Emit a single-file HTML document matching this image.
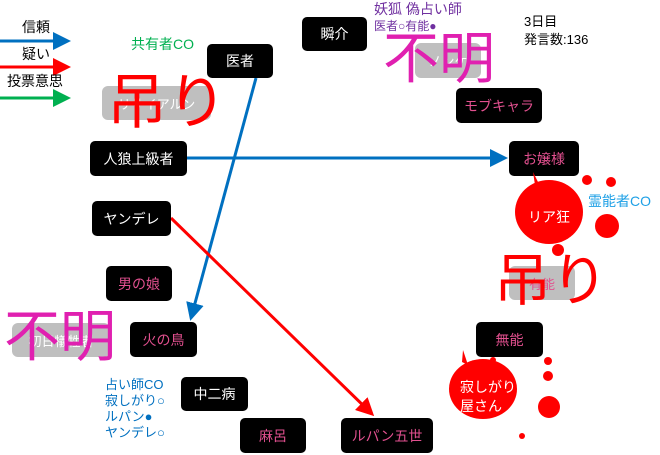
<!DOCTYPE html>
<html><head><meta charset="utf-8"><style>
body{margin:0;width:660px;height:455px;background:#fff;position:relative;overflow:hidden;font-family:"Liberation Sans","Noto Sans CJK JP",sans-serif}
.n{position:absolute;background:#000;color:#fff;border-radius:5px;display:flex;align-items:center;justify-content:center;font-size:14px}
.p{color:#e2508f}
.g{position:absolute;background:#bfbfbf;color:#fff;border-radius:6px;display:flex;align-items:center;justify-content:center;font-size:13px}
.t{position:absolute;white-space:nowrap;line-height:1}
</style></head><body>
<svg width="660" height="455" style="position:absolute;left:0;top:0">
<defs>
<marker id="ab" markerWidth="6" markerHeight="6" refX="5" refY="3" orient="auto" markerUnits="strokeWidth"><path d="M0,0 L6,3 L0,6z" fill="#0070c0"/></marker>
<marker id="ar" markerWidth="6" markerHeight="6" refX="5" refY="3" orient="auto" markerUnits="strokeWidth"><path d="M0,0 L6,3 L0,6z" fill="#f00"/></marker>
<marker id="ag" markerWidth="6" markerHeight="6" refX="5" refY="3" orient="auto" markerUnits="strokeWidth"><path d="M0,0 L6,3 L0,6z" fill="#00b050"/></marker>
</defs>
<line x1="0" y1="41" x2="68" y2="41" stroke="#0070c0" stroke-width="3" marker-end="url(#ab)"/>
<line x1="0" y1="67" x2="68" y2="67" stroke="#f00" stroke-width="3" marker-end="url(#ar)"/>
<line x1="0" y1="98" x2="68" y2="98" stroke="#00b050" stroke-width="3" marker-end="url(#ag)"/>
<line x1="256" y1="78" x2="191" y2="318" stroke="#0070c0" stroke-width="3" marker-end="url(#ab)"/>
<line x1="187" y1="158" x2="505" y2="158" stroke="#0070c0" stroke-width="3" marker-end="url(#ab)"/>
<line x1="171" y1="218" x2="372" y2="414" stroke="#f00" stroke-width="3" marker-end="url(#ar)"/>
</svg>
<div class="t" style="left:22px;top:20px;font-size:14px">信頼</div>
<div class="t" style="left:22px;top:47px;font-size:14px">疑い</div>
<div class="t" style="left:7px;top:74px;font-size:14px">投票意思</div>
<div class="t" style="left:131px;top:37px;font-size:14px;color:#00b050">共有者CO</div>
<div class="g" style="left:102px;top:86px;width:109px;height:34px">リサイアルン</div>
<div class="t" style="left:107px;top:73px;font-size:60px;color:#f00">吊り</div>
<div class="n" style="left:207px;top:44px;width:66px;height:34px">医者</div>
<div class="n" style="left:302px;top:17px;width:65px;height:34px">瞬介</div>
<div class="n" style="left:90px;top:141px;width:97px;height:35px">人狼上級者</div>
<div class="n" style="left:92px;top:201px;width:79px;height:35px">ヤンデレ</div>
<div class="n p" style="left:106px;top:266px;width:66px;height:35px">男の娘</div>
<div class="g" style="left:12px;top:323px;width:98px;height:34px">初日犠牲者</div>
<div class="t" style="left:4px;top:309px;font-size:56px;color:#e020b0">不明</div>
<div class="n p" style="left:130px;top:322px;width:67px;height:35px">火の鳥</div>
<div class="t" style="left:105px;top:377px;font-size:13px;color:#0070c0;line-height:16px">占い師CO<br>寂しがり○<br>ルパン●<br>ヤンデレ○</div>
<div class="n" style="left:181px;top:377px;width:67px;height:34px">中二病</div>
<div class="n p" style="left:240px;top:418px;width:66px;height:35px">麻呂</div>
<div class="n p" style="left:341px;top:418px;width:92px;height:35px">ルパン五世</div>
<div class="t" style="left:374px;top:2px;font-size:14px;color:#7030a0">妖狐 偽占い師</div>
<div class="t" style="left:374px;top:20px;font-size:12px;color:#7030a0">医者○有能●</div>
<div class="t" style="left:524px;top:13px;font-size:13px;line-height:18px">3日目<br>発言数:136</div>
<div class="g" style="left:415px;top:43px;width:66px;height:35px">ノンケ</div>
<div class="t" style="left:383px;top:31px;font-size:56px;color:#e020b0">不明</div>
<div class="n p" style="left:456px;top:88px;width:86px;height:35px">モブキャラ</div>
<div class="n p" style="left:509px;top:141px;width:70px;height:35px">お嬢様</div>
<svg width="660" height="455" style="position:absolute;left:0;top:0">
<g fill="#f00">
<ellipse cx="549" cy="212" rx="34" ry="32"/><circle cx="587" cy="180" r="5"/><circle cx="611" cy="182" r="5"/><circle cx="607" cy="226" r="12"/><circle cx="558" cy="250" r="6"/>
<path d="M535,185 L533,172 L540,186z"/>
<ellipse cx="483" cy="389" rx="34" ry="30"/><circle cx="493" cy="360" r="3"/><circle cx="548" cy="361" r="4"/><circle cx="548" cy="376" r="5"/><circle cx="549" cy="407" r="11"/><circle cx="522" cy="436" r="3"/>
<path d="M462,362 L463,350 L468,365z"/>
</g></svg>
<div class="t" style="left:528px;top:210px;font-size:14px;color:#fff">リア狂</div>
<div class="t" style="left:588px;top:194px;font-size:14px;color:#1ea0e6">霊能者CO</div>
<div class="g" style="left:509px;top:266px;width:66px;height:34px;color:#e2508f">有能</div>
<div class="t" style="left:494px;top:253px;font-size:57px;color:#f00">吊り</div>
<div class="n p" style="left:476px;top:322px;width:67px;height:35px">無能</div>
<div class="t" style="left:460px;top:378px;font-size:14px;color:#fff;line-height:19px">寂しがり<br>屋さん</div>
</body></html>
